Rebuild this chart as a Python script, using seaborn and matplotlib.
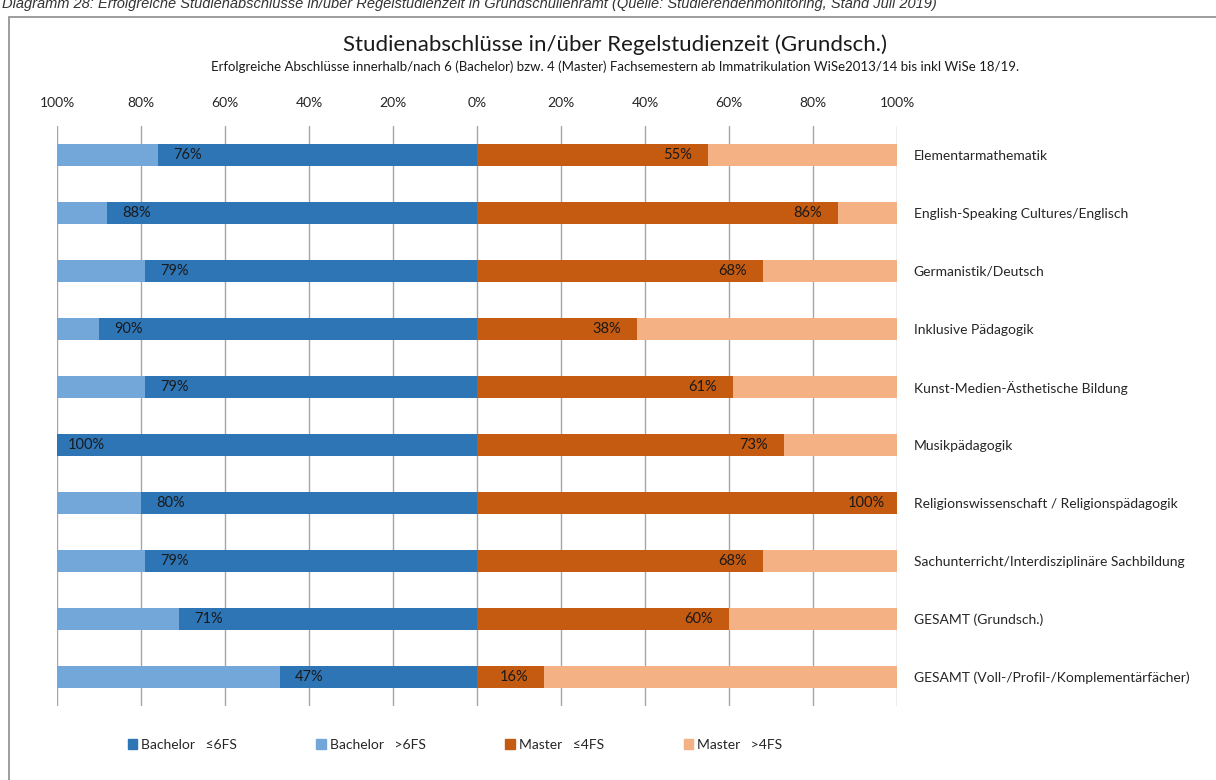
import numpy as np
import pandas as pd
import seaborn as sns
import matplotlib.pyplot as plt
from matplotlib.patches import Patch, Rectangle

# Daten aus dem Diagramm
faecher = [
    "Elementarmathematik",
    "English-Speaking Cultures/Englisch",
    "Germanistik/Deutsch",
    "Inklusive Pädagogik",
    "Kunst-Medien-Ästhetische Bildung",
    "Musikpädagogik",
    "Religionswissenschaft / Religionspädagogik",
    "Sachunterricht/Interdisziplinäre Sachbildung",
    "GESAMT (Grundsch.)",
    "GESAMT (Voll-/Profil-/Komplementärfächer)",
]
bachelor_in = [76, 88, 79, 90, 79, 100, 80, 79, 71, 47]   # Bachelor <=6FS
master_in = [55, 86, 68, 38, 61, 73, 100, 68, 60, 16]     # Master <=4FS
x_ticks = [-1.0, -0.8, -0.6, -0.4, -0.2, 0.0, 0.2, 0.4, 0.6, 0.8, 1.0]
tick_labels = ["100%", "80%", "60%", "40%", "20%", "0%", "20%", "40%", "60%", "80%", "100%"]
legend_labels = ["Bachelor   ≤6FS", "Bachelor   >6FS", "Master   ≤4FS", "Master   >4FS"]

c_bach_in = "#2E75B6"
c_bach_over = "#73A7DA"
c_mast_in = "#C55A11"
c_mast_over = "#F4B183"

sns.set_theme(style="white")
plt.rcParams['font.family'] = ['Lato', 'DejaVu Sans']

df = pd.DataFrame({
    "fach": faecher,
    "bach_in": [-v / 100 for v in bachelor_in],
    "bach_all": [-1.0] * len(faecher),
    "mast_in": [v / 100 for v in master_in],
    "mast_all": [1.0] * len(faecher),
})

fig = plt.figure(figsize=(12.16, 7.8), dpi=100)
W, H = 1216, 780
ax = fig.add_axes([57 / W, 1 - 706 / H, (897 - 57) / W, (706 - 126) / H])

# Rahmen und Quellenzeile (oben angeschnitten wie im Original)
fig.patches.append(Rectangle((9 / W, -0.05), 1.1, 1 - 17 / H + 0.05, transform=fig.transFigure,
                             fill=False, edgecolor="#8C8C8C", linewidth=1.2))
fig.text(2 / W, 1 - 8 / H,
         "Diagramm 28: Erfolgreiche Studienabschlüsse in/über Regelstudienzeit in Grundschullehramt "
         "(Quelle: Studierendenmonitoring, Stand Juli 2019)",
         fontsize=10.5, style="italic", family=["Liberation Sans", "DejaVu Sans"],
         ha="left", va="baseline", color="#333333")

# gestapelte Balken (Gesamtbalken hinten, Anteil in Regelstudienzeit vorne)
bar_w = 0.38
for col, c in [("bach_all", c_bach_over), ("bach_in", c_bach_in),
               ("mast_all", c_mast_over), ("mast_in", c_mast_in)]:
    sns.barplot(data=df, x=col, y="fach", orient="h", color=c, width=bar_w,
                saturation=1, linewidth=0, ax=ax)

# Beschriftungen
for i, (b, m) in enumerate(zip(bachelor_in, master_in)):
    ax.text(-b / 100 + 0.07, i, f"{b}%", ha="center", va="center", fontsize=10.5, color="#1A1A1A")
    ax.text(m / 100 - 0.072, i, f"{m}%", ha="center", va="center", fontsize=10.5, color="#1A1A1A")

ax.set_xlim(-1, 1)
ax.set_ylim(len(faecher) - 0.5, -0.5)
ax.set_xticks(x_ticks)
ax.set_xticklabels(tick_labels, fontsize=10)
ax.xaxis.tick_top()
ax.tick_params(axis="x", length=0, pad=12)
ax.yaxis.tick_right()
ax.set_yticks(range(len(faecher)))
ax.set_yticklabels(faecher, fontsize=10)
ax.tick_params(axis="y", length=0, pad=12)
ax.set_xlabel("")
ax.set_ylabel("")
for s in ax.spines.values():
    s.set_visible(False)
ax.grid(axis="x", color="#A6A6A6", linewidth=1)
ax.set_axisbelow(True)

# Titel
fig.text(615 / W, 1 - 45 / H, "Studienabschlüsse in/über Regelstudienzeit (Grundsch.)",
         ha="center", va="center", fontsize=16, color="#1A1A1A")
fig.text(615 / W, 1 - 67 / H,
         "Erfolgreiche Abschlüsse innerhalb/nach 6 (Bachelor) bzw. 4 (Master) Fachsemestern "
         "ab Immatrikulation WiSe2013/14 bis inkl WiSe 18/19.",
         ha="center", va="center", fontsize=9.5, color="#1A1A1A")

# Legende
handles = [Patch(color=c) for c in [c_bach_in, c_bach_over, c_mast_in, c_mast_over]]
fig.legend(handles, legend_labels, loc="center left", bbox_to_anchor=(122 / W, 1 - 745 / H),
           ncol=4, frameon=False, fontsize=10, handlelength=0.7, handleheight=0.7,
           handletextpad=0.3, columnspacing=5.7, borderaxespad=0)

fig.savefig("out.png", dpi=100)
